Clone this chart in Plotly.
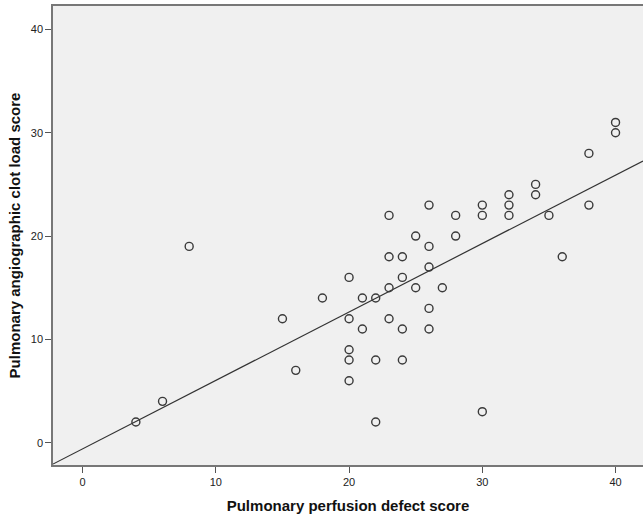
import numpy as np
import plotly.graph_objects as go

perfusion_score = [4, 6, 8, 15, 16, 18, 20, 20, 20, 20, 20, 21, 21, 22, 22, 22,
                   23, 23, 23, 23, 24, 24, 24, 24, 25, 25, 26, 26, 26, 26, 26, 27,
                   28, 28, 30, 30, 30, 32, 32, 32, 34, 34, 35, 36, 38, 38, 40, 40]
clot_score = [2, 4, 19, 12, 7, 14, 16, 12, 9, 8, 6, 14, 11, 14, 8, 2,
              22, 18, 15, 12, 18, 16, 11, 8, 20, 15, 23, 19, 17, 13, 11, 15,
              22, 20, 23, 22, 3, 24, 23, 22, 25, 24, 22, 18, 28, 23, 31, 30]

x_range = [-2.22, 42.06]
y_range = [-2.16, 42.27]
tick_vals = [0, 10, 20, 30, 40]

slope, intercept = np.polyfit(perfusion_score, clot_score, 1)
line_x = np.array(x_range)
line_y = slope * line_x + intercept

fig = go.Figure()
fig.add_trace(go.Scatter(
    x=line_x, y=line_y, mode="lines",
    line=dict(color="#333333", width=1.2),
    hoverinfo="skip", showlegend=False,
))
fig.add_trace(go.Scatter(
    x=perfusion_score, y=clot_score, mode="markers",
    marker=dict(symbol="circle-open", size=8, color="#3a3a3a", line=dict(width=1.4)),
    showlegend=False,
))

axis_font = dict(family="Liberation Sans, Arial, sans-serif", size=11, color="#222222")
title_font = dict(family="Liberation Sans, Arial, sans-serif", size=15, color="#111111")

fig.update_layout(
    width=643, height=517,
    margin=dict(l=53, r=0, t=6, b=52),
    paper_bgcolor="white",
    plot_bgcolor="#F0F0F0",
    xaxis=dict(
        range=x_range, tickvals=tick_vals, ticks="outside", ticklen=6, tickwidth=1.2,
        tickcolor="#555555", showgrid=False, zeroline=False,
        showline=True, linecolor="#777777", linewidth=1.5, mirror=True,
        tickfont=axis_font,
        title=dict(text="<b>Pulmonary perfusion defect score</b>", font=title_font, standoff=14),
    ),
    yaxis=dict(
        range=y_range, tickvals=tick_vals, ticks="outside", ticklen=6, tickwidth=1.2,
        tickcolor="#555555", showgrid=False, zeroline=False,
        showline=True, linecolor="#777777", linewidth=1.5,
        tickfont=axis_font,
        title=dict(text="<b>Pulmonary angiographic clot load score</b>", font=title_font, standoff=7),
    ),
)

fig.write_html("out.html")
